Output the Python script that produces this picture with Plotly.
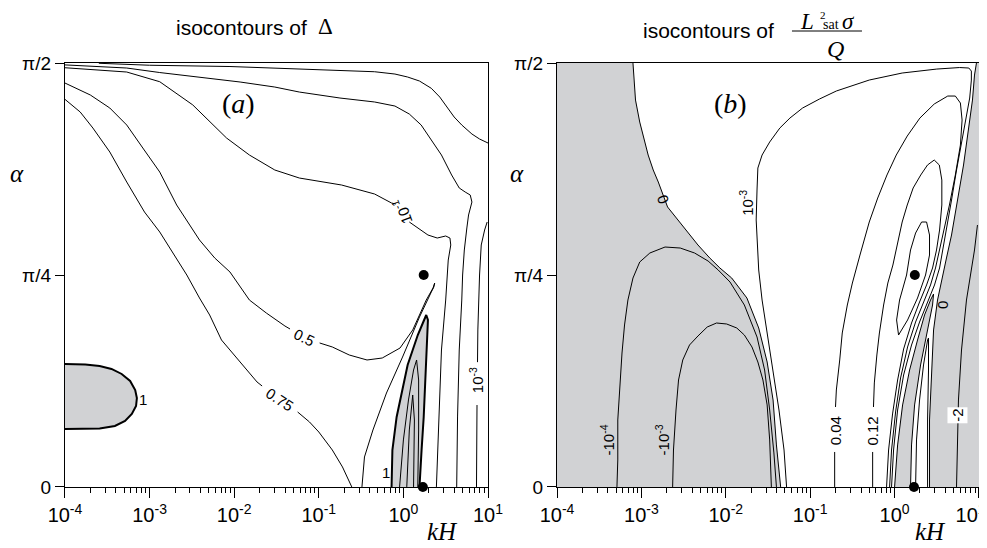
import plotly.graph_objects as go

GRAY = "#d1d2d4"

# kH is stored as log10(kH); alpha is stored in degrees (90 = pi/2)

# ---------- panel (a): isocontours of Delta ----------
A_TOP_E = [-3.60, -3.00, -2.05, -1.52, -0.87, -0.34, -0.10, 0.05, 0.19, 0.33, 0.43, 0.52, 0.60, 0.69, 0.81, 0.90, 1.00]
A_TOP_Y = [89.95, 89.53, 89.26, 88.87, 88.51, 88.15, 87.66, 87.03, 86.18, 84.63, 82.78, 80.45, 78.54, 76.84, 74.93, 73.87, 73.02]

A_BUMP_E = [-4.00, -3.59, -3.27, -2.88, -2.41, -1.93, -1.52, -1.23, -0.75, -0.34, -0.10, 0.07, 0.21, 0.33,
            0.45, 0.57, 0.66, 0.73, 0.79, 0.81, 0.77, 0.75, 0.72, 0.70, 0.69, 0.66, 0.64, 0.63]
A_BUMP_Y = [89.60, 89.30, 88.94, 87.98, 87.03, 85.97, 84.90, 83.84, 82.57, 81.73, 80.87, 79.17, 76.84, 73.65,
            70.47, 66.23, 63.47, 62.62, 61.98, 60.49, 57.74, 54.98, 50.31, 45.00, 39.69, 29.08, 14.86, 0.0]

A_M1_E = [-4.00, -3.59, -3.27, -2.88, -2.49, -2.09, -1.82, -1.52, -1.23, -0.73, -0.34, -0.14, -0.09, None,
          0.07, 0.17, 0.29, 0.40, 0.50, 0.55, 0.56, 0.53, 0.50, 0.45, 0.42, 0.39]
A_M1_Y = [89.00, 88.51, 88.09, 86.03, 81.11, 74.08, 70.47, 67.29, 65.59, 64.10, 62.19, 60.28, 60.07, None,
          56.25, 54.98, 53.49, 52.85, 53.28, 52.85, 51.37, 48.18, 39.69, 29.08, 14.86, 0.0]

A_05_E = [-4.00, -3.70, -3.47, -3.27, -3.08, -2.88, -2.68, -2.41, -2.23, -2.05, -1.82, -1.62, -1.40, -1.34, None,
          -0.99, -0.84, -0.64, -0.43, -0.25, -0.04, 0.11, 0.27, 0.35, 0.37, 0.36, 0.33, 0.19, -0.01, -0.20,
          -0.36, -0.46, -0.49]
A_05_Y = [85.75, 83.21, 80.45, 76.84, 71.96, 66.86, 59.86, 52.43, 48.61, 45.64, 39.69, 36.93, 34.17, 33.54, None,
          30.57, 29.72, 28.02, 26.96, 27.38, 29.50, 33.33, 39.69, 42.24, 43.30, 42.45, 41.39, 36.08, 27.59, 19.95,
          12.10, 6.37, 0.0]

A_075_E = [-4.00, -3.82, -3.67, -3.47, -3.27, -3.06, -2.88, -2.70, -2.56, -2.41, -2.29, -2.15, -2.02, -1.87,
           -1.73, -1.67, None, -1.25, -1.11, -1.00, -0.84, -0.72, -0.61]
A_075_Y = [82.29, 79.60, 76.20, 71.11, 64.74, 58.37, 54.13, 49.03, 45.00, 40.12, 36.51, 31.20, 28.44, 25.26,
           22.29, 21.44, None, 15.92, 13.80, 11.67, 7.85, 4.25, 0.0]

A_M3_E = [0.99, 0.96, 0.92, 0.90, 0.88, 0.876, None, 0.87, 0.864, 0.864]
A_M3_Y = [56.25, 54.55, 51.37, 45.00, 33.33, 26.50, None, 17.40, 9.98, 0.0]

A_BLOB_E = [-4.00, -3.76, -3.59, -3.45, -3.33, -3.23, -3.17, -3.15, -3.16, -3.21, -3.29, -3.41, -3.59, -3.76, -4.00]
A_BLOB_Y = [26.11, 26.00, 25.68, 25.05, 23.99, 22.50, 20.59, 18.89, 17.19, 15.50, 14.01, 12.95, 12.42, 12.31, 12.31]

A_SLIV_E = [-0.14, -0.13, -0.08, -0.01, 0.05, 0.11, 0.17, 0.23, 0.27, 0.29, 0.27, 0.24, 0.215, 0.19]
A_SLIV_Y = [0.0, 7.85, 14.86, 21.23, 25.90, 29.08, 32.26, 34.81, 36.51, 35.45, 25.47, 14.86, 7.85, 0.0]

A_IN1_E = [-0.045, 0.00, 0.06, 0.12, 0.156, 0.18, 0.18, 0.17]
A_IN1_Y = [0.0, 9.98, 18.47, 24.83, 26.96, 22.71, 12.10, 0.0]
A_IN2_E = [0.04, 0.07, 0.11, 0.13, 0.12]
A_IN2_Y = [0.0, 12.10, 19.53, 14.22, 0.0]

# ---------- panel (b): isocontours of L_sat^2 sigma / Q ----------
B_ZERO_L_E = [-3.10, -3.09, -3.07, -3.02, -2.97, -2.92, -2.86, -2.80, -2.69, -2.52, -2.33, -2.19, -2.07, -1.93,
              -1.75, -1.61, -1.51, -1.44, -1.40, -1.35]
B_ZERO_L_Y = [90.0, 86.39, 82.14, 77.47, 73.65, 70.47, 67.29, 64.74, 59.44, 55.61, 51.37, 48.61, 46.49, 44.36,
              40.12, 33.75, 26.53, 18.47, 8.92, 0.0]

B_M4_E = [-3.29, -3.28, -3.28, -3.25, -3.23, -3.20, -3.16, -3.10, -3.02, -2.90, -2.72, -2.54, -2.37, -2.21,
          -2.09, -1.95, -1.78, -1.63, -1.54, -1.48, -1.43, -1.40]
B_M4_Y = [0.0, 5.73, 14.22, 22.71, 28.44, 34.39, 39.69, 44.36, 47.76, 49.67, 50.94, 50.73, 49.67, 47.97,
          46.06, 43.51, 38.63, 31.84, 24.83, 16.34, 7.22, 0.0]

B_M3_E = [-2.63, -2.62, -2.59, -2.56, -2.51, -2.43, -2.33, -2.22, -2.11, -1.99, -1.87, -1.78, -1.69, -1.62,
          -1.56, -1.51, -1.48, -1.46]
B_M3_Y = [0.0, 7.85, 16.34, 22.71, 26.96, 30.14, 32.05, 33.96, 34.81, 34.60, 33.75, 32.26, 29.72, 26.53,
          22.71, 17.41, 9.98, 0.0]

B_P3_E = [-1.28, -1.31, -1.37, -1.44, -1.51, -1.57, -1.61, -1.63, -1.64, -1.63, -1.62, -1.57, -1.48, -1.36,
          -1.24, -1.09, -0.89, -0.69, -0.30, 0.09, 0.50, 0.77, 0.88, 0.91, 0.91, 0.89, 0.84, 0.79, 0.73,
          0.675, 0.615, 0.568, 0.533, 0.473, 0.391, 0.296, 0.201, 0.107, 0.036, -0.012, -0.036]
B_P3_Y = [0.0, 7.85, 16.34, 24.83, 33.33, 39.69, 46.06, 52.43, 56.67, 63.04, 67.71, 70.47, 73.23, 76.20,
          78.32, 80.45, 82.36, 84.06, 86.39, 87.88, 88.72, 89.04, 88.94, 88.30, 86.39, 82.57, 77.90, 72.59, 66.86,
          60.92, 54.98, 50.31, 46.49, 42.88, 39.27, 35.02, 30.14, 23.77, 16.34, 7.85, 0.0]

B_P04_E = [-0.71, -0.71, None, -0.70, -0.69, -0.65, -0.62, -0.56, -0.50, -0.41, -0.30, -0.20, -0.09, 0.02,
           0.15, 0.30, 0.47, 0.63, 0.72, 0.78, 0.80, 0.78, 0.72, 0.65, 0.58, 0.533, 0.485, 0.426, 0.343,
           0.249, 0.154, 0.071, 0.012, -0.036, -0.059]
B_P04_Y = [0.0, 7.43, None, 16.98, 20.59, 26.96, 32.69, 38.63, 43.30, 49.24, 56.25, 61.34, 66.23, 70.47,
           74.50, 78.32, 81.30, 82.99, 82.99, 81.51, 77.90, 72.59, 66.23, 59.86, 54.13, 50.31, 46.49, 42.88, 39.27,
           35.02, 29.72, 23.14, 15.92, 7.85, 0.0]

B_P12_E = [-0.26, -0.26, None, -0.25, -0.24, -0.21, -0.18, -0.13, -0.08, -0.02, 0.02, 0.09, 0.15, 0.22,
           0.31, 0.39, 0.47, 0.53, 0.56, 0.56, 0.533, 0.497, 0.450, 0.379, 0.296, 0.201, 0.107, 0.036,
           -0.024, -0.071, -0.095]
B_P12_Y = [0.0, 7.43, None, 16.98, 22.08, 28.02, 32.69, 38.63, 43.30, 47.12, 50.31, 56.25, 59.86, 63.47,
           66.23, 68.35, 69.41, 68.35, 65.16, 59.86, 54.55, 50.31, 46.49, 42.88, 39.27, 34.81, 29.29, 22.71,
           15.50, 7.85, 0.0]

B_IN_E = [0.142, 0.189, 0.249, 0.320, 0.379, 0.414, 0.414, 0.367, 0.272, 0.154, 0.047, 0.024, 0.059, 0.107, 0.142]
B_IN_Y = [45.0, 50.31, 53.91, 56.25, 56.25, 53.49, 49.24, 45.0, 40.12, 35.45, 32.26, 35.45, 39.69, 42.88, 45.0]

B_ZERO_R_E = [0.970, 0.947, 0.923, 0.876, 0.817, 0.746, 0.675, 0.615, 0.556, 0.509, 0.462, 0.438, 0.414, 0.414]
B_ZERO_R_Y = [90.0, 87.45, 82.14, 75.78, 68.35, 60.92, 53.49, 48.61, 43.94, 39.69, 33.33, 24.83, 14.22, 0.0]

B_TONGUE_E = [0.0, 0.036, 0.095, 0.178, 0.272, 0.355, 0.426, 0.462, 0.450, 0.391, 0.308, 0.237, 0.201, 0.189]
B_TONGUE_Y = [0.0, 8.92, 17.41, 24.83, 31.20, 36.51, 39.69, 40.97, 38.63, 33.33, 25.90, 17.41, 8.92, 0.0]

B_SLIV_E = [0.249, 0.260, 0.296, 0.343, 0.391, 0.402, 0.402, 0.391, 0.391]
B_SLIV_Y = [0.0, 9.98, 18.47, 25.90, 31.20, 31.63, 24.83, 14.22, 0.0]

B_M2_E = [0.982, 0.947, 0.852, 0.793, 0.757, 0.746, 0.734]
B_M2_Y = [55.61, 50.31, 39.69, 29.08, 18.47, 9.98, 0.0]

DOT_E = [0.24, 0.23]
DOT_Y = [45.0, 0.0]

X_TICKS = [1e-4, 1e-3, 1e-2, 1e-1, 1e0, 1e1]
X_TICKTEXT = ["10<sup>-4</sup>", "10<sup>-3</sup>", "10<sup>-2</sup>", "10<sup>-1</sup>",
              "10<sup>0</sup>", "10<sup>1</sup>"]
Y_TICKS = [0, 45, 90]
Y_TICKTEXT = ["0", "π/4", "π/2"]


def kh(exps):
    return [None if e is None else 10 ** e for e in exps]


fig = go.Figure()
AXES = {"a": ("x", "y"), "b": ("x2", "y2")}


def line(ex, y, panel, width=1.0):
    xa, ya = AXES[panel]
    fig.add_trace(go.Scatter(x=kh(ex), y=y, mode="lines", xaxis=xa, yaxis=ya,
                             line=dict(color="black", width=width),
                             hoverinfo="skip", showlegend=False))


def patch(ex, y, panel):
    xa, ya = AXES[panel]
    fig.add_trace(go.Scatter(x=kh(ex), y=y, mode="lines", fill="toself", fillcolor=GRAY,
                             xaxis=xa, yaxis=ya, line=dict(width=0),
                             hoverinfo="skip", showlegend=False))


def label(text, ex, y, panel, angle=0, size=15, bg=None):
    xa, ya = AXES[panel]
    fig.add_annotation(x=ex, y=y, xref=xa, yref=ya, text=text, showarrow=False,
                       textangle=angle, bgcolor=bg, borderpad=1,
                       font=dict(family="Liberation Sans, Arial", size=size, color="black"))


# gray regions
patch(A_BLOB_E, A_BLOB_Y, "a")
patch(A_SLIV_E, A_SLIV_Y, "a")
patch([-4.0] + B_ZERO_L_E + [-4.0], [90.0] + B_ZERO_L_Y + [0.0], "b")
patch(B_ZERO_R_E + [1.0, 1.0], B_ZERO_R_Y + [0.0, 90.0], "b")
patch(B_TONGUE_E, B_TONGUE_Y, "b")

# panel (a) lines
for ex, y in [(A_TOP_E, A_TOP_Y), (A_BUMP_E, A_BUMP_Y), (A_M1_E, A_M1_Y), (A_05_E, A_05_Y),
              (A_075_E, A_075_Y), (A_M3_E, A_M3_Y), (A_IN1_E, A_IN1_Y), (A_IN2_E, A_IN2_Y)]:
    line(ex, y, "a")
line(A_BLOB_E, A_BLOB_Y, "a", width=2)
line(A_SLIV_E, A_SLIV_Y, "a", width=2)

# panel (b) lines
for ex, y in [(B_ZERO_L_E, B_ZERO_L_Y), (B_M4_E, B_M4_Y), (B_M3_E, B_M3_Y), (B_P3_E, B_P3_Y),
              (B_P04_E, B_P04_Y), (B_P12_E, B_P12_Y), (B_IN_E, B_IN_Y), (B_ZERO_R_E, B_ZERO_R_Y),
              (B_TONGUE_E, B_TONGUE_Y), (B_SLIV_E, B_SLIV_Y), (B_M2_E, B_M2_Y)]:
    line(ex, y, "b")

for panel in ("a", "b"):
    xa, ya = AXES[panel]
    fig.add_trace(go.Scatter(x=kh(DOT_E), y=DOT_Y, mode="markers", xaxis=xa, yaxis=ya,
                             marker=dict(color="black", size=10), cliponaxis=False,
                             hoverinfo="skip", showlegend=False))

# contour labels
label("10<sup>-1</sup>", -0.01, 58.4, "a", angle=-110)
label("0.5", -1.17, 31.8, "a", angle=26)
label("0.75", -1.46, 18.5, "a", angle=33)
label("1", -3.08, 18.5, "a")
label("1", -0.20, 3.0, "a")
label("10<sup>-3</sup>", 0.86, 22.7, "a", angle=-90)
label("0", -2.75, 60.9, "b", angle=-110)
label("10<sup>-3</sup>", -1.75, 60.3, "b", angle=-90)
label("-10<sup>-4</sup>", -3.40, 10.0, "b", angle=-90)
label("-10<sup>-3</sup>", -2.75, 10.0, "b", angle=-90)
label("0.04", -0.69, 11.9, "b", angle=-90)
label("0.12", -0.26, 11.9, "b", angle=-90)
label("0", 0.56, 38.6, "b", angle=-90)
label("-2", 0.75, 15.3, "b", angle=-90, bg="white")

SERIF = "Liberation Serif, Times New Roman, serif"
SANS = "Liberation Sans, Arial"
for text, xa, ya in [("(<i>a</i>)", "x", "y"), ("(<i>b</i>)", "x2", "y2")]:
    fig.add_annotation(x=-1.95, y=81.5, xref=xa, yref=ya, text=text, showarrow=False,
                       font=dict(family=SERIF, size=28, color="black"))


def paper_text(text, x, y, family, size, yanchor="middle"):
    fig.add_annotation(x=x, y=y, xref="paper", yref="paper", text=text, showarrow=False,
                       xanchor="center", yanchor=yanchor, borderpad=0,
                       font=dict(family=family, size=size, color="black"))


# the page sits 8 px in from the window corner, so the figure is 979 x 540
paper_text("isocontours of", 0.2390, 0.963, SANS, 21)
paper_text("Δ", 0.3248, 0.965, SERIF, 23)
paper_text("isocontours of", 0.7160, 0.959, SANS, 21)
paper_text("<i>L</i>", 0.8161, 1.0, SERIF, 23, yanchor="top")
paper_text("2", 0.8320, 1.0, SERIF, 11, yanchor="top")
paper_text("sat", 0.8410, 0.969, SERIF, 14)
paper_text("<i>σ</i>", 0.8590, 1.0, SERIF, 23, yanchor="top")
paper_text("<i>Q</i>", 0.8448, 0.924, SERIF, 24)
fig.add_shape(type="line", xref="paper", yref="paper", x0=0.8008, x1=0.8723, y0=0.9574, y1=0.9574,
              line=dict(color="black", width=1))

for xpos in (0.0092, 0.5199):
    paper_text("<i>α</i>", xpos, 0.694, SERIF, 25)
for xpos in (0.4443, 0.9418):
    paper_text("<i>kH</i>", xpos, 0.030, SERIF, 25)

minor_vals = [k * 10 ** e for e in range(-4, 1) for k in range(2, 10)]
xaxis_style = dict(type="log", range=[-4, 1], showline=True, mirror=True, linecolor="black", linewidth=1.3,
                   ticks="outside", ticklen=10, tickwidth=1.2, tickcolor="black", automargin=False,
                   ticklabeloverflow="allow", tickvals=X_TICKS, showgrid=False, zeroline=False,
                   tickfont=dict(family=SANS, size=20, color="black"),
                   minor=dict(ticks="outside", ticklen=5, tickwidth=1, tickcolor="black",
                              tickvals=minor_vals, showgrid=False))
yaxis_style = dict(range=[0, 90], showline=True, mirror=True, linecolor="black", linewidth=1.3,
                   ticks="outside", ticklen=9, tickwidth=1.2, tickcolor="black", automargin=False,
                   tickvals=Y_TICKS, ticktext=Y_TICKTEXT, showgrid=False, zeroline=False,
                   tickfont=dict(family=SANS, size=19, color="black"))

# last label of panel (b) sits against the window edge, as in the source figure
b_ticktext = X_TICKTEXT[:-1] + [X_TICKTEXT[-1] + "\u00a0\u00a0\u00a0"]

fig.update_layout(
    width=979, height=540,
    margin=dict(l=0, r=0, t=0, b=0, autoexpand=False),
    paper_bgcolor="white", plot_bgcolor="white",
    xaxis=dict(domain=[0.0582, 0.4903], anchor="y", ticktext=X_TICKTEXT, **xaxis_style),
    yaxis=dict(domain=[0.1130, 0.8981], anchor="x", **yaxis_style),
    xaxis2=dict(domain=[0.5608, 0.9918], anchor="y2", ticktext=b_ticktext, **xaxis_style),
    yaxis2=dict(domain=[0.1130, 0.8981], anchor="x2", **yaxis_style),
)

fig.write_html("out.html")
